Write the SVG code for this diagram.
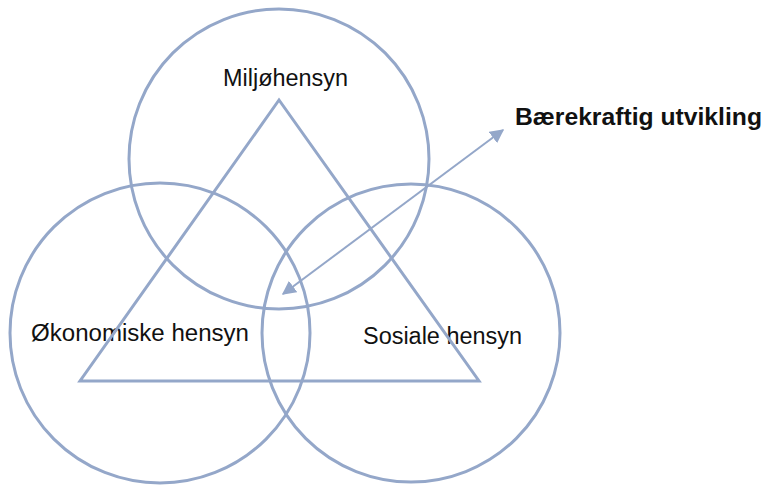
<svg xmlns="http://www.w3.org/2000/svg" width="766" height="486" viewBox="0 0 766 486">
<style>
.c{fill:none;stroke:#94a7c9;stroke-width:3}
.t{font-family:"Liberation Sans",Arial,sans-serif;font-size:23px;fill:#111}
.b{font-weight:bold;font-size:23px}
</style>
<defs>
<marker id="ah" viewBox="0 0 10 10" refX="9" refY="5" markerWidth="14" markerHeight="14" markerUnits="userSpaceOnUse" orient="auto-start-reverse">
<path d="M0,0 L10,5 L0,10 z" fill="#94a7c9"/>
</marker>
</defs>
<rect width="766" height="486" fill="#fff"/>
<g id="miljo"><circle class="c" cx="279" cy="159" r="150"/><text class="t" x="223" y="86" textLength="125" lengthAdjust="spacingAndGlyphs">Miljøhensyn</text></g>
<g id="okonomi"><circle class="c" cx="160" cy="333" r="150"/><text class="t" x="31" y="341" textLength="218" lengthAdjust="spacingAndGlyphs">Økonomiske hensyn</text></g>
<g id="sosial"><circle class="c" cx="411" cy="333" r="149"/><text class="t" x="363" y="344" textLength="159" lengthAdjust="spacingAndGlyphs">Sosiale hensyn</text></g>
<g id="triangel"><polygon class="c" points="279,100 80,381 479,381"/></g>
<g id="baerekraft"><text class="t b" x="515" y="125" textLength="247" lengthAdjust="spacingAndGlyphs">Bærekraftig utvikling</text></g>
<g id="connectors"><line x1="283" y1="294" x2="503" y2="130" stroke="#94a7c9" stroke-width="2" marker-start="url(#ah)" marker-end="url(#ah)"/></g>
</svg>
